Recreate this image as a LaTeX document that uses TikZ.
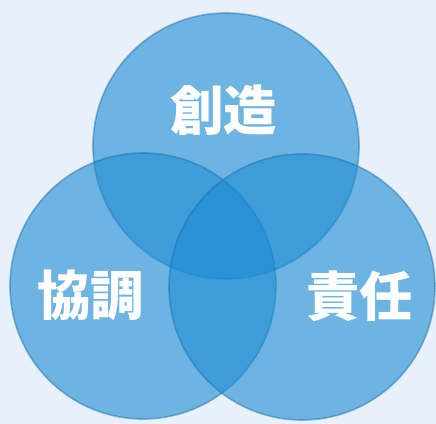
\documentclass[tikz,border=0pt]{standalone}
\usepackage{fontspec}
\newfontfamily\cjk{Noto Sans CJK JP}
\definecolor{paper}{RGB}{232,241,249}
\definecolor{ringblue}{RGB}{30,140,212}
\tikzstyle{ring} = [circle, minimum size=6.65cm, inner sep=0pt, fill=ringblue, fill opacity=0.6, draw=ringblue!80!black, draw opacity=0.45, line width=1.2pt]
\tikzstyle{word} = [text=white, font=\cjk\bfseries\fontsize{38}{38}\selectfont, inner sep=0pt]

\begin{document}
\begin{tikzpicture}
% background
\fill[paper] (0,0) rectangle (10.9,10.6);
\useasboundingbox (0,0) rectangle (10.9,10.6);

\node[ring] (sozo) at (5.65,6.95) {};
\node[ring] (kyocho) at (3.575,3.45) {};
\node[ring] (sekinin) at (7.55,3.425) {};

\node[word] (lsozo) at (5.6,7.85) {創造};
\node[word] (lkyocho) at (2.275,3.225) {協調};
\node[word] (lsekinin) at (9.0,3.2) {責任};

\end{tikzpicture}
\end{document}
